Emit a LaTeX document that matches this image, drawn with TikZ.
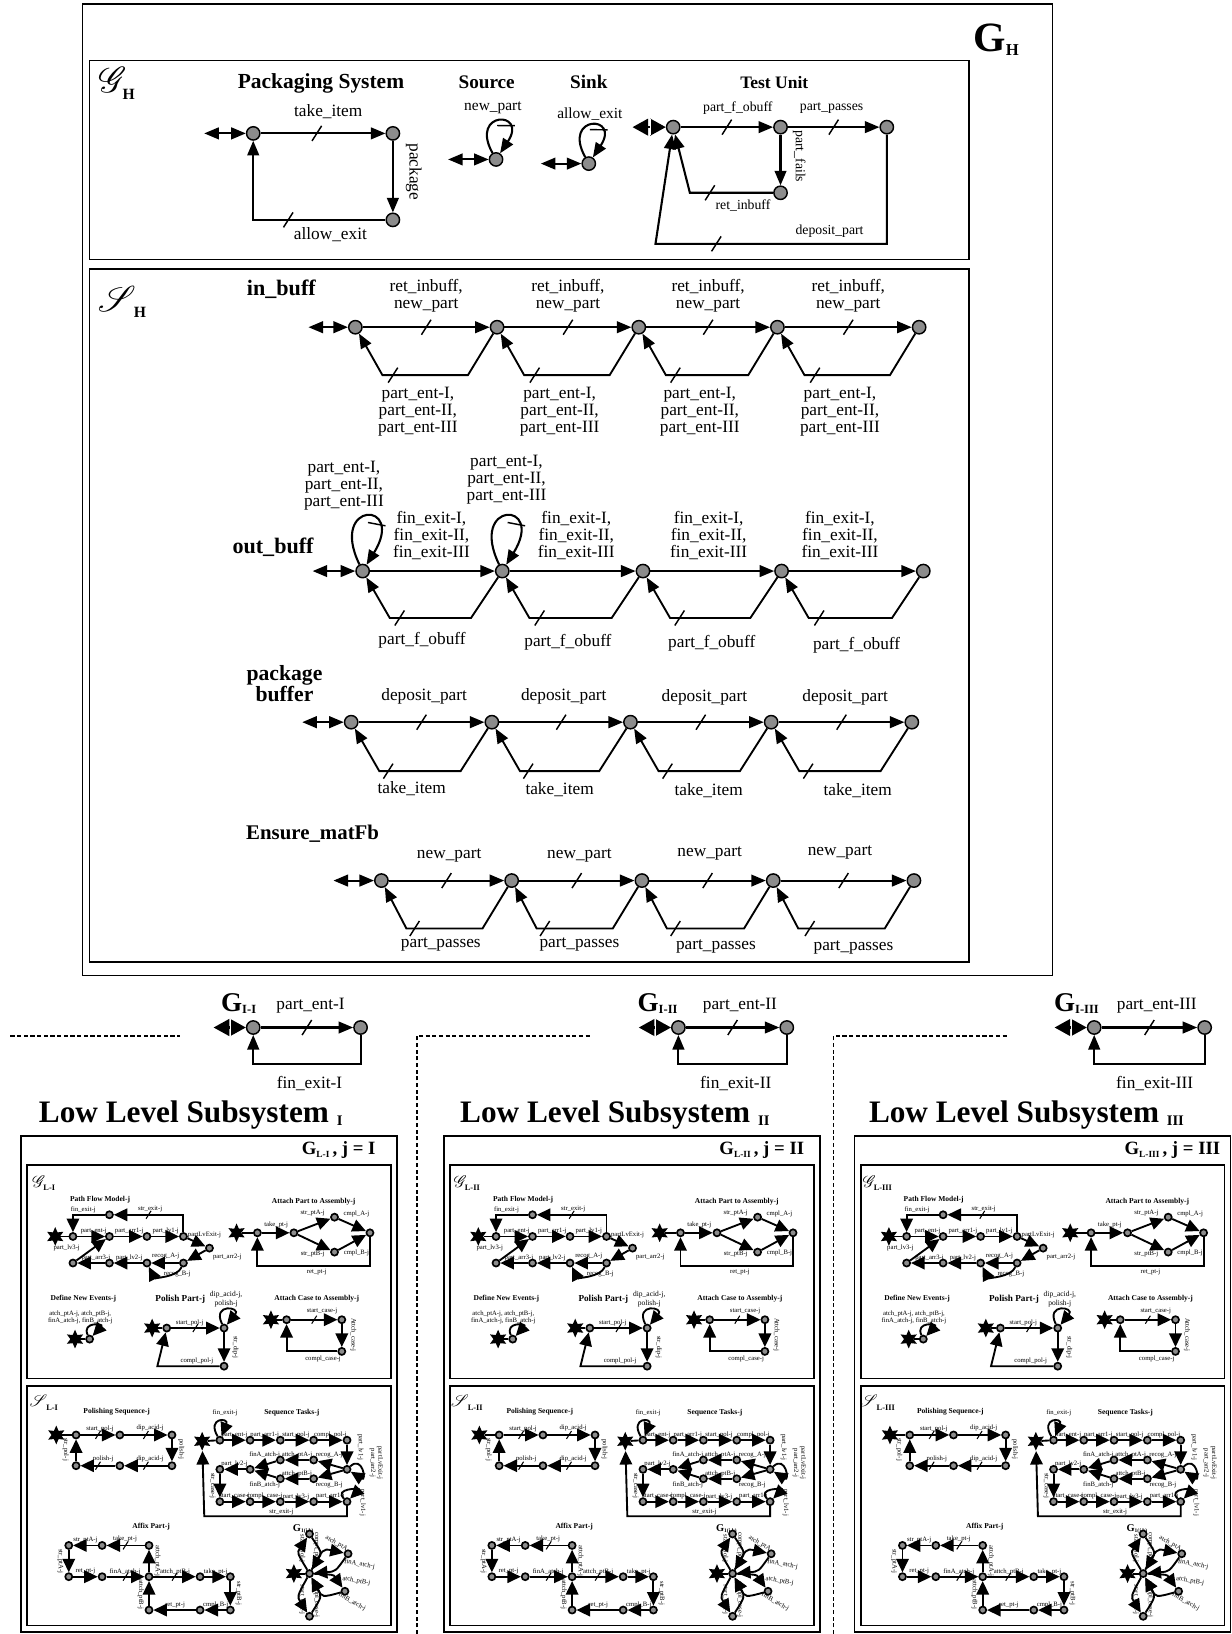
\documentclass[tikz,border=0pt]{standalone}
\usepackage{fontspec}
\setmainfont{Liberation Serif}
\usepackage{mathrsfs}
\usetikzlibrary{arrows.meta,shapes.geometric,decorations.markings}
\definecolor{stgray}{RGB}{140,140,140}
\begin{document}
\begin{tikzpicture}[x=0.5pt,y=-0.5pt,
 >={Triangle[length=7pt,width=5.6pt]},
 st/.style={circle,draw=black,line width=0.7pt,fill=stgray,minimum size=6.4pt,inner sep=0pt},
 arr/.style={line width=1pt,->},
 ln/.style={line width=1pt},
 dbl/.style={line width=1pt,<->},
 loz/.style={line width=1pt,{Triangle[length=7.5pt,width=8pt]}-{Triangle[length=7.5pt,width=8pt]}},
 lbl/.style={font=\fontsize{8.3}{8.1}\selectfont,inner sep=0pt,align=center},
 mlbl/.style={font=\fontsize{7.4}{8}\selectfont,inner sep=0pt,align=center},
 slbl/.style={font=\fontsize{6.6}{7}\selectfont,inner sep=0pt,align=center},
 ttl/.style={font=\bfseries\fontsize{9.2}{10}\selectfont,inner sep=0pt,align=center},
 rowttl/.style={font=\bfseries\fontsize{10.6}{11}\selectfont,inner sep=0pt,align=center},
 gttl/.style={font=\bfseries\fontsize{13}{13}\selectfont,inner sep=0pt},
 llst/.style={font=\bfseries\fontsize{15}{15}\selectfont,inner sep=0pt},
 box/.style={line width=0.7pt},
 slash/.style={postaction={decorate,decoration={markings,mark=at position #1 with {\draw[line width=0.7pt,-] (-2.3pt,-3.6pt) -- (2.3pt,3.6pt);}}}},
 lslash/.style={postaction={decorate,decoration={markings,mark=at position #1 with {\draw[line width=0.5pt,-] (-1.2pt,-1.9pt) -- (1.2pt,1.9pt);}}}},
 lslash/.default=0.5,
 lst/.style={circle,draw=black,line width=0.8pt,fill=stgray,minimum size=3.4pt,inner sep=0pt},
 lstar/.style={star,star points=6,star point ratio=2,fill=black,minimum size=9pt,inner sep=0pt},
 larr/.style={line width=0.9pt,->},
 lln/.style={line width=0.9pt},
 ltxt/.style={font=\fontsize{3.2}{3.5}\selectfont,inner sep=0pt,align=center},
 lttl/.style={font=\bfseries\fontsize{3.6}{4}\selectfont,inner sep=0pt}]
\fill[white] (0,0) rectangle (1182,1568);
\useasboundingbox (0,0) rectangle (1182,1568);

% ================= frames of G_H
\draw[box] (79,4) rectangle (1010,936);
\draw[box] (86,58) rectangle (930,249);
\draw[box] (86,258) rectangle (930,923);
\node[inner sep=0pt] (GH) at (956,38) {\fontsize{20}{20}\selectfont\bfseries G\raisebox{-2pt}{\fontsize{8}{8}\selectfont H}};
\node[inner sep=0pt] (gH) at (112,80) {\fontsize{16}{16}\selectfont$\mathscr{G}$\kern-2pt\raisebox{-3pt}{\fontsize{7.5}{7.5}\selectfont\bfseries H}};
\node[inner sep=0pt] (sH) at (117,290) {\fontsize{16}{16}\selectfont$\mathscr{S}$\kern-1pt\raisebox{-3pt}{\fontsize{7.5}{7.5}\selectfont\bfseries H}};

% ================= Packaging System
\node[ttl,font=\bfseries\fontsize{10.3}{11}\selectfont] (tPS) at (308,80) {Packaging System};
\node[st] (p1) at (243,128) {};
\node[st] (p2) at (377,128) {};
\node[st] (p3) at (377,211) {};
\coordinate (pd) at (196,128);
\draw[dbl] (pd) -- (p1);
\draw[arr,slash=0.45] (p1) -- (p2);
\draw[arr] (p2) -- (p3);
\draw[arr,slash=0.46] (p3) -- (243,211) -- (p1);
\node[lbl] (lp1) at (315,107) {take\_item};
\node[lbl] (lp2) at (317,225) {allow\_exit};
\node[lbl,rotate=-90] (lp3) at (397,165) {package};

% ================= Source
\node[ttl] (tSo) at (467,79) {Source};
\node[st] (s1) at (476,153) {};
\coordinate (sd) at (430,153);
\draw[dbl] (sd) -- (s1);
\draw[arr,slash=0.62] (s1) .. controls (450,106) and (507,106) .. (s1);
\node[mlbl] (ls1) at (473,103) {new\_part};

% ================= Sink
\node[ttl] (tSi) at (565,79) {Sink};
\node[st] (k1) at (565,157) {};
\coordinate (kd) at (519,157);
\draw[dbl] (kd) -- (k1);
\draw[arr,slash=0.62] (k1) .. controls (539,110) and (596,110) .. (k1);
\node[mlbl] (lk1) at (566,110) {allow\_exit};

% ================= Test Unit
\node[ttl,font=\bfseries\fontsize{8.4}{9}\selectfont] (tTU) at (743,79) {Test Unit};
\node[st] (t1) at (646,122) {};
\node[st] (t2) at (749,122) {};
\node[st] (t3) at (851,122) {};
\node[st] (t4) at (749,185) {};
\coordinate (td) at (607,122);
\draw[loz] (td) -- (t1);
\draw[white,line width=0.7pt] (624,114) -- (624,130);
\draw[arr,slash=0.5] (t1) -- (t2);
\draw[arr,slash=0.5] (t2) -- (t3);
\draw[arr] (t2) -- (t4);
\draw[arr,slash=0.44] (t4) -- (662,185) -- (t1);
\draw[arr,slash=0.62] (t3) -- (851,234) -- (629,234) -- (t1);
\node[slbl] (lt1) at (708,104) {part\_f\_obuff};
\node[slbl] (lt2) at (798,104) {part\_passes};
\node[slbl,rotate=-90] (lt3) at (767,150) {part\_fails};
\node[slbl] (lt4) at (713,197) {ret\_inbuff};
\node[slbl] (lt5) at (796,222) {deposit\_part};

% ================= in_buff
\node[rowttl] (tib) at (270,278) {in\_buff};
\foreach \x [count=\k] in {341,477,613,746,882} \node[st] (ib\k) at (\x,314) {};
\coordinate (ibd) at (296,314);
\draw[dbl] (ibd) -- (ib1);
\foreach \a/\b/\xa/\xb in {1/2/341/477,2/3/477/613,3/4/613/746,4/5/746/882}{
  \draw[arr,slash=0.5] (ib\a) -- (ib\b);
  \draw[arr,line width=0.9pt,slash=0.68] (ib\b) -- (\xb-28,360) -- (\xa+26,360) -- (ib\a);
  \node[lbl] (ibt\a) at ({(\xa+\xb)/2},284) {ret\_inbuff,\\new\_part};
  \node[lbl] (ibb\a) at ({(\xa+\xb)/2-8},395) {part\_ent-I,\\part\_ent-II,\\part\_ent-III};
}

% ================= out_buff
\node[rowttl] (tob) at (262,525) {out\_buff};
\foreach \x [count=\k] in {348,482,617,750,886} \node[st] (ob\k) at (\x,548) {};
\coordinate (obd) at (300,548);
\draw[dbl] (obd) -- (ob1);
\foreach \a/\b/\xa/\xb in {1/2/348/482,2/3/482/617,3/4/617/750,4/5/750/886}{
  \draw[arr] (ob\a) -- (ob\b);
  \draw[arr,line width=0.9pt,slash=0.68] (ob\b) -- (\xb-30,593) -- (\xa+26,593) -- (ob\a);
}
\draw[arr,slash=0.62] (ob1) .. controls (315,480) and (390,480) .. (ob1);
\draw[arr,slash=0.62] (ob2) .. controls (449,480) and (524,480) .. (ob2);
\node[lbl] (obl1) at (330,466) {part\_ent-I,\\part\_ent-II,\\part\_ent-III};
\node[lbl] (obl2) at (486,460) {part\_ent-I,\\part\_ent-II,\\part\_ent-III};
\foreach \x [count=\k] in {414,553,680,806} \node[lbl] (obt\k) at (\x,514) {fin\_exit-I,\\fin\_exit-II,\\fin\_exit-III};
\foreach \x/\y [count=\k] in {405/614,545/616,683/617,822/619} \node[lbl] (obb\k) at (\x,\y) {part\_f\_obuff};

% ================= package buffer
\node[rowttl,font=\bfseries\fontsize{10.4}{10.4}\selectfont] (tpb) at (273,656) {package\\buffer};
\foreach \x [count=\k] in {337,472,605,740,875} \node[st] (pb\k) at (\x,693) {};
\coordinate (pbd) at (290,693);
\draw[dbl] (pbd) -- (pb1);
\foreach \a/\b/\xa/\xb in {1/2/337/472,2/3/472/605,3/4/605/740,4/5/740/875}{
  \draw[arr,slash=0.5] (pb\a) -- (pb\b);
  \draw[arr,line width=0.9pt,slash=0.68] (pb\b) -- (\xb-30,740) -- (\xa+27,740) -- (pb\a);
}
\foreach \x/\y [count=\k] in {407/668,541/668,676/669,811/669} \node[lbl] (pbt\k) at (\x,\y) {deposit\_part};
\foreach \x/\y [count=\k] in {395/757,537/758,680/759,823/759} \node[lbl] (pbb\k) at (\x,\y) {take\_item};

% ================= Ensure_matFb
\node[rowttl,font=\bfseries\fontsize{10}{10}\selectfont] (tem) at (300,800) {Ensure\_matFb};
\foreach \x [count=\k] in {366,491,616,742,877} \node[st] (em\k) at (\x,845) {};
\coordinate (emd) at (320,845);
\draw[dbl] (emd) -- (em1);
\foreach \a/\b/\xa/\xb in {1/2/366/491,2/3/491/616,3/4/616/742,4/5/742/877}{
  \draw[arr,slash=0.5] (em\a) -- (em\b);
  \draw[arr,line width=0.9pt,slash=0.68] (em\b) -- (\xb-28,891) -- (\xa+24,891) -- (em\a);
}
\foreach \x/\y [count=\k] in {431/821,556/821,681/819,806/818} \node[lbl] (emt\k) at (\x,\y) {new\_part};
\foreach \x/\y [count=\k] in {423/906,556/906,687/908,819/909} \node[lbl] (emb\k) at (\x,\y) {part\_passes};

% ================= G_I rows and dashed separators
\draw[line width=0.7pt,dash pattern=on 2pt off 1.2pt] (10,994) -- (173,994);
\draw[line width=0.7pt,dash pattern=on 2pt off 1.2pt] (400,1568) -- (400,994) -- (567,994);
\draw[line width=0.7pt,dash pattern=on 2pt off 1.2pt] (800,1568) -- (800,994) -- (968,994);
\foreach \rn/\xa/\xb/\gx/\px/\fx/\lx [count=\k] in {I/243/346/229/298/297/183, II/651/755/631/710/706/590, III/1050/1156/1033/1110/1108/985}{
  \node[st] (gia\k) at (\xa,986) {};
  \node[st] (gib\k) at (\xb,986) {};
  \coordinate (gid\k) at (\xa-38,986);
  \draw[loz] (gid\k) -- (gia\k);
  \draw[white,line width=0.7pt] (\xa-22,978) -- (\xa-22,994);
  \draw[arr,slash=0.5] (gia\k) -- (gib\k);
  \draw[arr] (gib\k) -- (\xb,1021) -- (\xa,1021) -- (gia\k);
  \node[gttl] (gil\k) at (\gx,963) {G\raisebox{-1pt}{\fontsize{6}{6}\selectfont I-\rn}};
  \node[lbl] (gip\k) at (\px,965) {part\_ent-\rn};
  \node[lbl] (gif\k) at (\fx,1040) {fin\_exit-\rn};
  \node[llst] (lls\k) at (\lx,1070) {Low Level Subsystem \raisebox{-1.5pt}{\fontsize{7}{7}\selectfont \rn}};
}

% ================= Low level subsystems
\foreach \ox/\rn in {0/I,406/II,800/III}{
\begin{scope}[shift={(20+\ox,1090)},name prefix=L\rn-,>={Triangle[length=6.5pt,width=6pt]}]
 \draw[box] (0,0) rectangle (361,476);
 \draw[box] (6,28) rectangle (355,233);
 \draw[box] (6,240) rectangle (355,470);
 \node[inner sep=0pt] (hdr) at (305,14) {\fontsize{9}{9}\selectfont\bfseries G\raisebox{-1pt}{\fontsize{4.5}{4.5}\selectfont L-\rn}\,, j = \rn};
 \node[inner sep=0pt] (gl) at (22,45) {\fontsize{8}{8}\selectfont$\mathscr{G}$\kern-1pt\raisebox{-1.5pt}{\fontsize{4}{4}\selectfont\bfseries L-\rn}};
 \node[inner sep=0pt] (sl) at (22,256) {\fontsize{8}{8}\selectfont$\mathscr{S}$\kern-0.5pt\raisebox{-1.5pt}{\fontsize{4}{4}\selectfont\bfseries L-\rn}};
 % Path Flow Model
 \node[lttl] (pfm) at (76,61) {Path Flow Model-j};
 \node[lstar] (fs) at (33,96.5) {};
 \node[lst] (f1) at (50,96.5) {};
 \node[lst] (f2) at (85,96.5) {};
 \node[lst] (f3) at (121,96.5) {};
 \node[lst] (f4) at (156,96.5) {};
 \node[lst] (f5) at (181,107.7) {};
 \node[lst] (ft) at (85,75.7) {};
 \node[lst] (fb4) at (156,122) {};
 \node[lst] (fb3) at (121,122) {};
 \node[lst] (fb2) at (85,122) {};
 \node[lst] (fb1) at (50,122) {};
 \draw[lln] (fs) -- (f1);
 \draw[larr] (f1) -- (f2);
 \draw[larr] (f2) -- (f3);
 \draw[larr] (f3) -- (f4);
 \draw[larr,lslash=0.6] (f4) -- (156,75.7) -- (ft);
 \draw[larr] (ft) -- (50,75.7) -- (f1);
 \draw[larr] (f4) -- (f5);
 \draw[larr] (f5) -- (fb4);
 \draw[larr] (fb4) -- (fb3);
 \draw[larr] (fb4) .. controls (150,136) and (128,136) .. (fb3);
 \draw[larr] (fb3) -- (fb2);
 \draw[larr] (fb2) -- (fb1);
 \draw[larr] (fb1) -- (f2);
 \node[ltxt] (pf1) at (60,71) {fin\_exit-j};
 \node[ltxt] (pf2) at (124,70) {str\_exit-j};
 \node[ltxt] (pf3) at (70,91) {part\_ent-j};
 \node[ltxt] (pf4) at (104,91) {part\_arr1-j};
 \node[ltxt] (pf5) at (139,91) {part\_lv1-j};
 \node[ltxt,anchor=west] (pf6) at (160,95) {partLvExit-j};
 \node[ltxt] (pf7) at (44,107) {part\_lv3-j};
 \node[ltxt] (pf8) at (72,117) {part\_arr3-j};
 \node[ltxt] (pf9) at (104,117) {part\_lv2-j};
 \node[ltxt] (pf10) at (139,115) {recog\_A-j};
 \node[ltxt,anchor=west] (pf11) at (184,116) {part\_arr2-j};
 \node[ltxt] (pf12) at (150,133) {recog\_B-j};
 % Attach Part to Assembly
 \node[lttl] (apt) at (281,63) {Attach Part to Assembly-j};
 \node[lstar] (as) at (207,93) {};
 \node[lst] (a1) at (227,93) {};
 \node[lst] (a2) at (262,93) {};
 \node[lst] (a3) at (301,78) {};
 \node[lst] (a4) at (335,93) {};
 \node[lst] (a5) at (301,111.5) {};
 \draw[lln] (as) -- (a1);
 \draw[larr] (a1) -- (a2);
 \draw[larr] (a2) -- (a3);
 \draw[larr] (a2) -- (a5);
 \draw[larr] (a3) -- (a4);
 \draw[larr] (a5) -- (a4);
 \draw[larr] (a4) -- (335,124.6) -- (227,124.6) -- (a1);
 \node[ltxt] (ap1) at (245,85) {take\_pt-j};
 \node[ltxt] (ap2) at (280,74) {str\_ptA-j};
 \node[ltxt] (ap3) at (322,75) {cmpl\_A-j};
 \node[ltxt] (ap4) at (280,113) {str\_ptB-j};
 \node[ltxt] (ap5) at (322,112) {cmpl\_B-j};
 \node[ltxt] (ap6) at (284,131) {ret\_pt-j};
 % Define New Events
 \node[lttl] (dne) at (60,156) {Define New Events-j};
 \node[ltxt] (dnt) at (57,174) {atch\_ptA-j, atch\_ptB-j,\\finA\_atch-j, finB\_atch-j};
 \node[lstar] (ds) at (52,195) {};
 \node[lst] (d1) at (66,195) {};
 \draw[lln] (ds) -- (d1);
 \draw[larr] (d1) .. controls (58,178) and (80,180) .. (d1);
 % Polish Part
 \node[inner sep=0pt,font=\bfseries\fontsize{4.4}{5}\selectfont] (ppt) at (153,157) {Polish Part-j};
 \node[lstar] (ps) at (126,184.4) {};
 \node[lst] (pp1) at (140,184.4) {};
 \node[lst] (pp2) at (195,184.4) {};
 \node[lst] (pp3) at (195,221) {};
 \draw[lln] (ps) -- (pp1);
 \draw[larr,lslash] (pp1) -- (pp2);
 \draw[larr] (pp2) .. controls (183,160) and (212,164) .. (pp2);
 \draw[larr] (pp2) -- (pp3);
 \draw[larr] (pp3) -- (131,221) -- (pp1);
 \node[ltxt] (pq1) at (162,179) {start\_pol-j};
 \node[ltxt,font=\fontsize{3.6}{4.2}\selectfont] (pq2) at (197,157) {dip\_acid-j,\\polish-j};
 \node[ltxt] (pq3) at (169,216) {compl\_pol-j};
 \node[ltxt,rotate=-90] (pq4) at (206,203) {str\_dip-j};
 % Attach Case to Assembly
 \node[lttl] (act) at (284,156) {Attach Case to Assembly-j};
 \node[lstar] (cs) at (240,176.4) {};
 \node[lst] (c1) at (255,176.4) {};
 \node[lst] (c2) at (308,176.4) {};
 \node[lst] (c3) at (308,206.8) {};
 \draw[lln] (cs) -- (c1);
 \draw[larr,lslash] (c1) -- (c2);
 \draw[larr] (c2) -- (c3);
 \draw[larr] (c3) -- (255,206.8) -- (c1);
 \node[ltxt] (ac1) at (289,168) {start\_case-j};
 \node[ltxt] (ac2) at (290,214) {compl\_case-j};
 \node[ltxt,rotate=-90] (ac3) at (319,191) {Attch\_case-j};
 % Polishing Sequence
 \node[lttl] (pst) at (92,265) {Polishing Sequence-j};
 \node[lstar] (qs) at (34,287) {};
 \node[lst] (q1) at (53,287) {};
 \node[lst] (q2) at (95,287) {};
 \node[lst] (q3) at (145,287) {};
 \node[lst] (q4) at (145,316.5) {};
 \node[lst] (q5) at (95,316.5) {};
 \node[lst] (q6) at (53,316.5) {};
 \draw[lln] (qs) -- (q1);
 \draw[larr,lslash] (q1) -- (q2);
 \draw[larr,lslash] (q2) -- (q3);
 \draw[larr] (q3) -- (q4);
 \draw[larr,lslash] (q4) -- (q5);
 \draw[larr,lslash] (q5) -- (q6);
 \draw[larr] (q6) -- (q1);
 \node[ltxt] (ps1) at (76,281) {start\_pol-j};
 \node[ltxt] (ps2) at (124,280) {dip\_acid-j};
 \node[ltxt] (ps3) at (79,310) {polish-j};
 \node[ltxt] (ps4) at (124,310) {dip\_acid-j};
 \node[ltxt,rotate=-90] (ps5) at (154,301) {polish-j};
 \node[ltxt,rotate=-90] (ps6) at (43,301) {str\_pol-j};
 % Sequence Tasks
 \node[lttl] (stt) at (260,266) {Sequence Tasks-j};
 \node[lstar] (ss) at (174,293) {};
 \node[lst] (u1) at (191,292) {};
 \node[lst] (u2) at (220,292) {};
 \node[lst] (u3) at (249,292) {};
 \node[lst] (u4) at (281,292) {};
 \node[lst] (u5) at (313,292) {};
 \node[lst] (u6) at (313,320) {};
 \node[lst] (ua2) at (281,311) {};
 \node[lst] (ua1) at (249,311) {};
 \node[lst] (ub2) at (281,329) {};
 \node[lst] (ub1) at (249,329) {};
 \node[lst] (um) at (220,320) {};
 \node[lst] (um0) at (191,320) {};
 \node[lst] (ur1) at (191,351) {};
 \node[lst] (ur2) at (220,351) {};
 \node[lst] (ur3) at (249,351) {};
 \node[lst] (ur4) at (281,351) {};
 \node[lst] (ur5) at (313,351) {};
 \draw[lln] (ss) -- (u1);
 \draw[larr] (u1) .. controls (178,270) and (200,270) .. (u1);
 \draw[larr] (u1) -- (u2);
 \draw[larr] (u2) -- (u3);
 \draw[larr] (u3) -- (u4);
 \draw[larr] (u4) -- (u5);
 \draw[larr] (u5) -- (u6);
 \draw[larr] (u6) .. controls (328,306) and (332,332) .. (u6);
 \draw[larr] (u6) -- (ua2);
 \draw[larr] (u6) -- (ub2);
 \draw[larr] (ua2) -- (ua1);
 \draw[larr] (ub2) -- (ub1);
 \draw[larr] (ua1) -- (um);
 \draw[larr] (ub1) -- (um);
 \draw[larr] (um) -- (um0);
 \draw[larr] (um0) -- (ur1);
 \draw[larr] (ur1) -- (ur2);
 \draw[larr] (ur2) -- (ur3);
 \draw[larr] (ur3) -- (ur4);
 \draw[larr] (ur4) -- (ur5);
 \draw[larr] (ur5) .. controls (300,338) and (326,338) .. (ur5);
 \draw[larr] (ur5) -- (313,365) -- (176,365) -- (ss);
 \node[ltxt] (sq1) at (196,266) {fin\_exit-j};
 \node[ltxt] (sq2) at (205,287) {part\_ent-j};
 \node[ltxt] (sq3) at (234,287) {part\_arr1-j};
 \node[ltxt] (sq4) at (264,287) {start\_pol-j};
 \node[ltxt] (sq5) at (297,287) {compl\_pol-j};
 \node[ltxt] (sq6) at (234,306) {finA\_atch-j};
 \node[ltxt] (sq7) at (265,306) {attch\_ptA-j};
 \node[ltxt] (sq8) at (296,306) {recog\_A-j};
 \node[ltxt] (sq9) at (205,315) {part\_lv2-j};
 \node[ltxt] (sq10) at (265,324) {attch\_ptB-j};
 \node[ltxt] (sq11) at (234,335) {finB\_atch-j};
 \node[ltxt] (sq12) at (296,335) {recog\_B-j};
 \node[ltxt] (sq13) at (205,346) {start\_case-j};
 \node[ltxt] (sq14) at (234,345) {compl\_case-j};
 \node[ltxt] (sq15) at (264,346) {part\_lv3-j};
 \node[ltxt] (sq16) at (297,346) {part\_arr1-j};
 \node[ltxt] (sq17) at (250,361) {str\_exit-j};
 \node[ltxt,rotate=-90] (sq18) at (326,299) {part\_lv1-j};
 \node[ltxt,rotate=-90] (sq19) at (341,314) {partLvExit-j\\part\_arr2-j};
 \node[ltxt,rotate=-90] (sq20) at (328,352) {part\_lv1-j};
 \node[ltxt,rotate=-90] (sq21) at (184,336) {str\_case-j};
 % Affix Part
 \node[lttl] (afp) at (125,375) {Affix Part-j};
 \node[lst] (x1) at (46,393) {};
 \node[lst] (x2) at (78,393) {};
 \node[lst] (x3) at (123,393) {};
 \node[lst] (y1) at (46,423) {};
 \node[lst] (y2) at (78,423) {};
 \node[lst] (y3) at (123,423) {};
 \node[lst] (y4) at (172,423) {};
 \node[lst] (y5) at (201,423) {};
 \node[lst] (z3) at (123,455) {};
 \node[lst] (z4) at (172,455) {};
 \node[lst] (z5) at (201,455) {};
 \draw[larr,lslash] (x3) -- (x2);
 \draw[larr] (x2) -- (x1);
 \draw[larr] (x1) -- (y1);
 \draw[larr] (y1) -- (y2);
 \draw[larr,lslash] (y2) -- (y3);
 \draw[larr] (y3) -- (x3);
 \draw[larr,lslash] (y3) -- (y4);
 \draw[larr] (y4) -- (y5);
 \draw[larr] (y5) -- (z5);
 \draw[larr] (z5) -- (z4);
 \draw[larr] (z4) -- (z3);
 \draw[larr] (z3) -- (y3);
 \node[ltxt] (af1) at (62,388) {str\_ptA-j};
 \node[ltxt] (af2) at (100,387) {take\_pt-j};
 \node[ltxt] (af3) at (62,418) {ret\_pt-j};
 \node[ltxt] (af4) at (100,418) {finA\_atch-j};
 \node[ltxt] (af5) at (148,418) {attch\_ptB-j};
 \node[ltxt] (af6) at (187,418) {take\_pt-j};
 \node[ltxt] (af7) at (148,450) {ret\_pt-j};
 \node[ltxt] (af8) at (187,450) {cmpl\_B-j};
 \node[ltxt,rotate=-90] (af9) at (131,408) {attch\_ptA-j};
 \node[ltxt,rotate=-90] (af10) at (38,408) {str\_ptA-j};
 \node[ltxt,rotate=-90] (af11) at (209,439) {str\_ptB-j};
 \node[ltxt,rotate=-90] (af12) at (115,440) {attch\_ptB-j};
 % G_1(j,k)
 \node[inner sep=0pt,font=\bfseries\fontsize{5}{5}\selectfont] (gjk) at (271,377) {G\raisebox{-0.6pt}{\fontsize{2.6}{3}\selectfont 1(j,k)}};
 \node[lstar] (gs) at (262,420) {};
 \node[lst] (gc) at (277,420) {};
 \node[lst] (gu) at (277,382) {};
 \node[lst] (gru) at (314,401) {};
 \node[lst] (grd) at (311,437) {};
 \node[lst] (gd) at (277,461) {};
 \draw[lln] (gs) -- (gc);
 \draw[larr] (gc) .. controls (265,400) .. (gu);
 \draw[larr] (gu) .. controls (289,400) .. (gc);
 \draw[larr] (gc) .. controls (290,396) .. (gru);
 \draw[larr] (gru) .. controls (302,418) .. (gc);
 \draw[larr] (gc) .. controls (300,421) .. (grd);
 \draw[larr] (grd) .. controls (289,443) .. (gc);
 \draw[larr] (gc) .. controls (265,442) .. (gd);
 \draw[larr] (gd) .. controls (289,442) .. (gc);
 \node[ltxt,rotate=-90] (gk1) at (284,396) {compl\_pol-j};
 \node[ltxt,rotate=-90] (gk2) at (270,396) {start\_pol-j};
 \node[ltxt,rotate=-30] (gk3) at (303,391) {atch\_ptA};
 \node[ltxt,rotate=-10] (gk4) at (325,411) {finA\_atch-j};
 \node[ltxt,rotate=-10] (gk5) at (322,427) {atch\_ptB-j};
 \node[ltxt,rotate=-30] (gk6) at (318,447) {finB\_atch-j};
 \node[ltxt,rotate=-90] (gk7) at (270,445) {start\_case-j};
 \node[ltxt,rotate=-90] (gk8) at (284,445) {compl\_case-j};
\end{scope}
}
\end{tikzpicture}
\end{document}
